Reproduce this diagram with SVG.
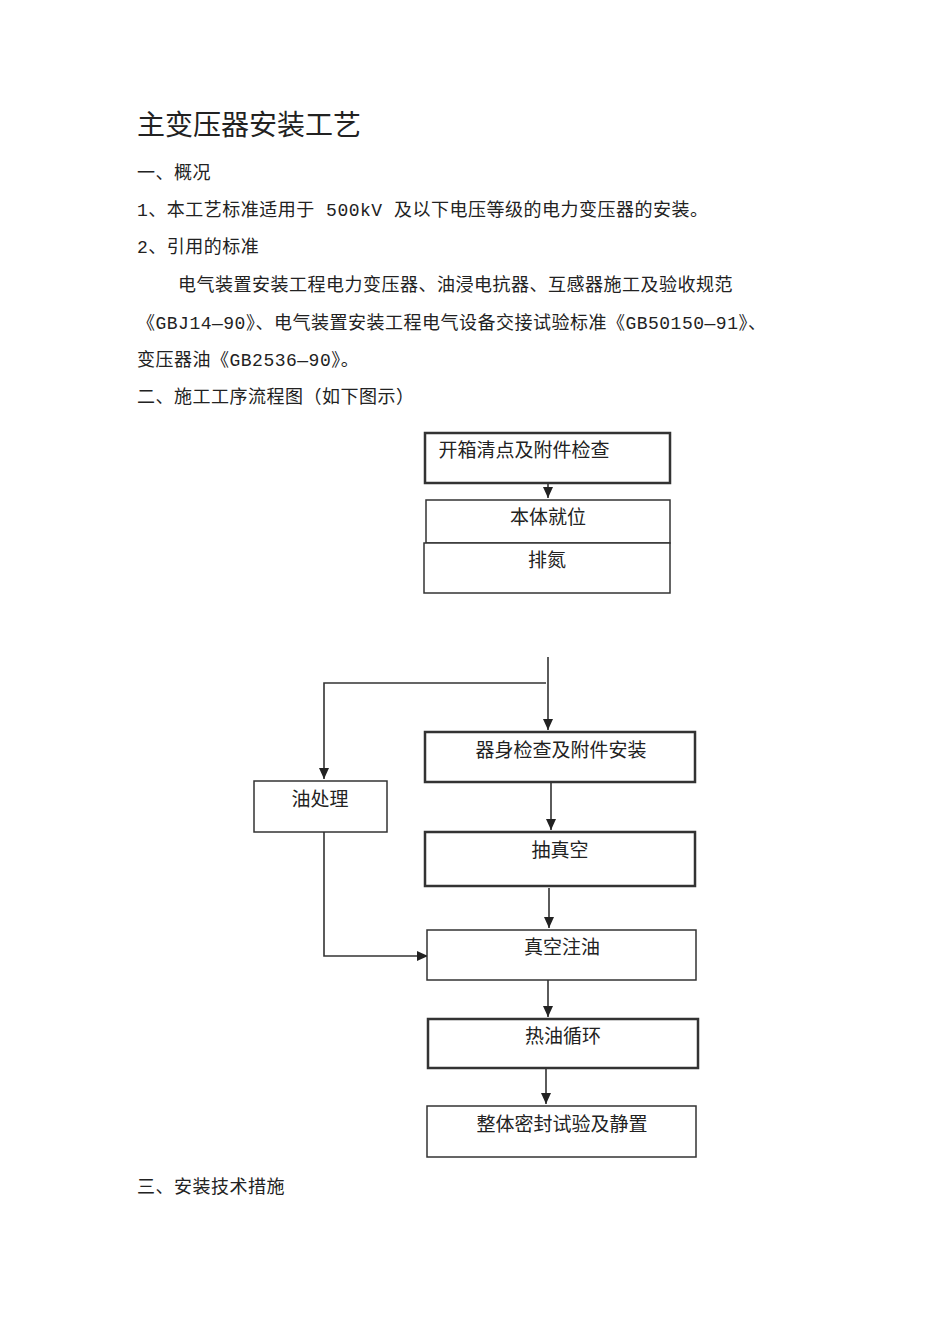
<svg xmlns="http://www.w3.org/2000/svg" width="950" height="1344" viewBox="0 0 950 1344">
<style>
text{font-family:"Liberation Mono","Noto Sans CJK SC",monospace;fill:#222;font-size:18px;letter-spacing:0.5px}
.t{font-size:28px;font-family:"Liberation Serif","Noto Sans CJK SC",serif;letter-spacing:0}
.n rect{fill:#fff;stroke:#333;stroke-width:1.5}
.n rect.b{stroke-width:2.5}
.n text{text-anchor:middle;font-size:19px;letter-spacing:0}
.c path{fill:none;stroke:#333;stroke-width:1.6}
</style>
<defs><marker id="a" markerWidth="12" markerHeight="12" refX="11" refY="6" orient="auto" markerUnits="userSpaceOnUse"><path d="M0,1 L11,6 L0,11z" fill="#222"/></marker></defs>
<rect width="950" height="1344" fill="#fff"/>
<text class="t" x="137" y="135">主变压器安装工艺</text>
<text x="137" y="179">一、概况</text>
<text x="137" y="216">1、本工艺标准适用于 500kV 及以下电压等级的电力变压器的安装。</text>
<text x="137" y="253">2、引用的标准</text>
<text x="178" y="291">电气装置安装工程电力变压器、油浸电抗器、互感器施工及验收规范</text>
<text x="137" y="329">《GBJ14—90》、电气装置安装工程电气设备交接试验标准《GB50150—91》、</text>
<text x="137" y="366">变压器油《GB2536—90》。</text>
<text x="137" y="403">二、施工工序流程图（如下图示）</text>
<text x="137" y="1193">三、安装技术措施</text>
<g class="c">
<path d="M548 465V498" marker-end="url(#a)"/>
<path d="M548 657V730" marker-end="url(#a)"/>
<path d="M546 683H324V779" marker-end="url(#a)"/>
<path d="M551 782V830" marker-end="url(#a)"/>
<path d="M549 888V928" marker-end="url(#a)"/>
<path d="M324 832V956H428" marker-end="url(#a)"/>
<path d="M548 980V1017" marker-end="url(#a)"/>
<path d="M546 1068V1104" marker-end="url(#a)"/>
</g>
<g id="n1" class="n"><rect class="b" x="425" y="433" width="245" height="50"/><text x="524" y="457">开箱清点及附件检查</text></g>
<g id="n2" class="n"><rect x="426" y="500" width="244" height="43"/><text x="548" y="524">本体就位</text></g>
<g id="n3" class="n"><rect x="424" y="543" width="246" height="50"/><text x="547" y="567">排氮</text></g>
<g id="n4" class="n"><rect class="b" x="425" y="732" width="270" height="50"/><text x="561" y="757">器身检查及附件安装</text></g>
<g id="n5" class="n"><rect x="254" y="781" width="133" height="51"/><text x="320" y="806">油处理</text></g>
<g id="n6" class="n"><rect class="b" x="425" y="832" width="270" height="54"/><text x="560" y="857">抽真空</text></g>
<g id="n7" class="n"><rect x="427" y="930" width="269" height="50"/><text x="562" y="954">真空注油</text></g>
<g id="n8" class="n"><rect class="b" x="428" y="1019" width="270" height="49"/><text x="563" y="1043">热油循环</text></g>
<g id="n9" class="n"><rect x="427" y="1106" width="269" height="51"/><text x="562" y="1131">整体密封试验及静置</text></g>
</svg>
